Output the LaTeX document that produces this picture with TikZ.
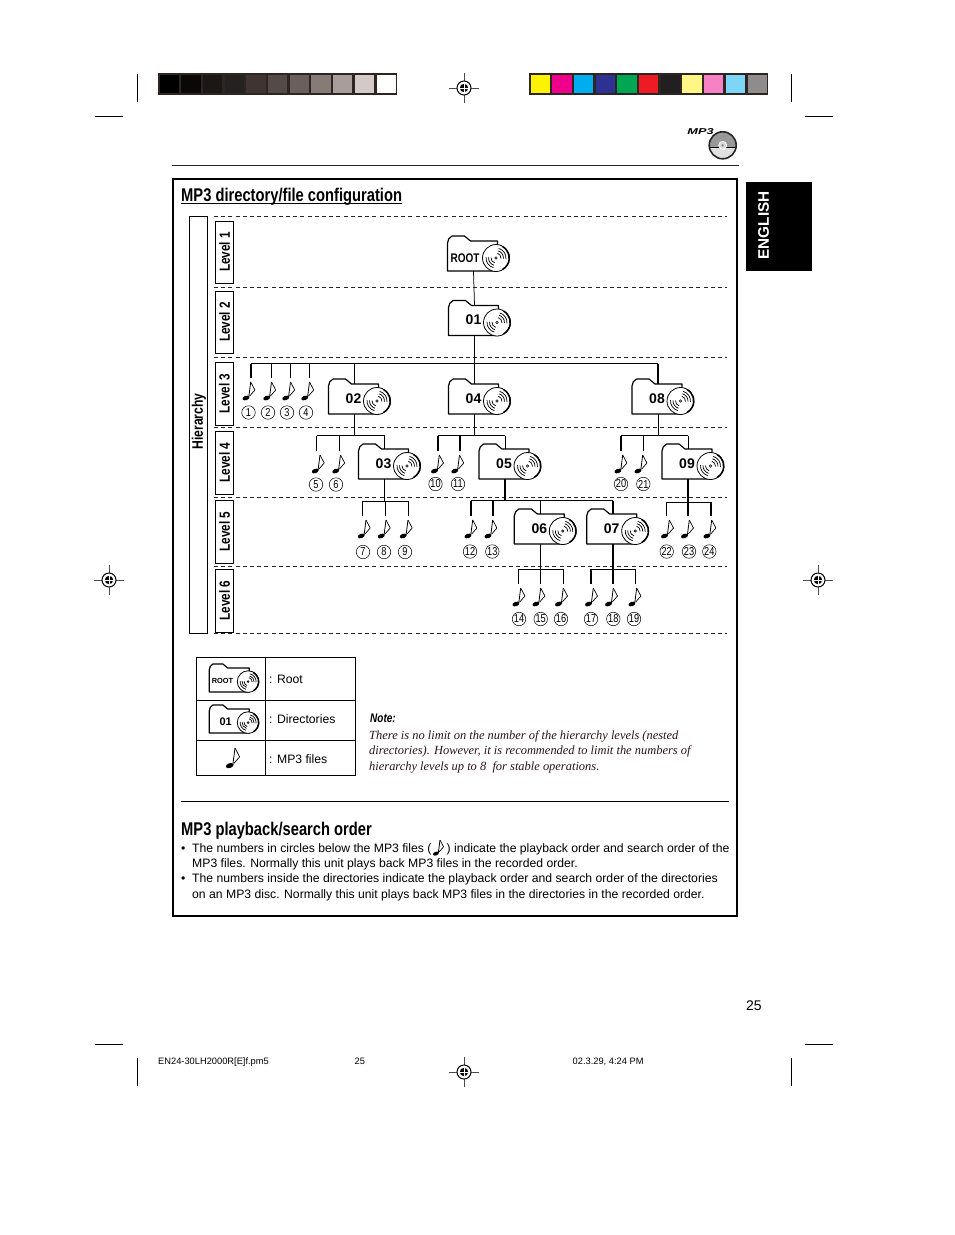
\documentclass[tikz,border=0pt]{standalone}
\usepackage{fontspec}
\setmainfont{Liberation Sans}
\newfontfamily\cond[FakeStretch=0.8]{Liberation Sans}
\newfontfamily\serifit{Liberation Serif}
\newcommand\fsz[1]{\fontsize{#1}{#1}\selectfont}
\definecolor{barframe}{HTML}{2E2522}
\definecolor{notetext}{HTML}{2A1518}
\tikzset{
  conn/.style={line width=0.75pt,black},
  connh/.style={line width=1.6pt,black},
  level/.style={dash pattern=on 4pt off 3.2pt,line width=0.8pt,black!85},
  box/.style={draw=black,line width=1pt},
  txt/.style={anchor=base west,inner sep=0pt,font=\fsz{12.2}},
  numlab/.style={circle,draw=black,line width=0.5pt,inner sep=0pt,minimum size=13.5pt,font=\cond\fsz{11.5}},
  lvltxt/.style={rotate=90,inner sep=0pt,font=\cond\bfseries\fsz{14.7}},
  flabel/.style={inner sep=0pt},
  fnode/.style={inner sep=0pt,minimum width=0pt,minimum height=30pt},
  mark line/.style={line width=0.8pt,black},
}
% name, left, top, label, label font, label x, label y, scale
\newcommand\folder[8]{%
  \begin{scope}[shift={(#2,#3)},scale=#8]
    \draw[fill=white,line width=1.2pt,line join=round] (0,35) -- (0,7) .. controls (0,4) and (2,1) .. (4.5,0) -- (17,0) -- (23,5) -- (50,5) -- (50,20) -- (50,35) -- cycle;
    \draw[fill=white,line width=0.8pt] (48.5,22) circle (13.5);
    \draw[line width=1.5pt] (48.5,22) ++(-60:13.2) arc[start angle=-60,end angle=60,radius=13.2];
    \draw[line width=0.6pt] (48.5,22) circle (1.2);
    \foreach \r in {5,7.5,10}{
      \draw[line width=0.7pt] (48.5,22) ++(105:\r) arc[start angle=105,end angle=185,radius=\r];
      \draw[line width=0.7pt] (48.5,22) ++(-75:\r) arc[start angle=-75,end angle=5,radius=\r];
    }
    \node[flabel,font=#5] (#1-l) at (#6,#7) {#4};
    \node[fnode,minimum height=30*#8] (#1) at (26,20) {};
  \end{scope}}
\newcommand\numfolder[4]{\folder{#1}{#2}{#3}{#4}{\bfseries\fsz{14}}{25}{19.5}{1}}
\newcommand\noteglyph[3]{%
  \begin{scope}[shift={(#1,#2)},scale=#3]
    \draw[line width=0.7pt,line join=round] (0,0) -- (4.2,8) -- (-1,14);
    \draw[line width=0.8pt] (0,0) -- (-2,15.5);
    \fill[shift={(-4.8,16)},rotate=20] (0,0) ellipse (3.6 and 2.2);
  \end{scope}}
% name, x of the drop line, x of the glyph, y of the glyph
\newcommand\noteat[4]{\coordinate (#1) at (#2,#4-4.5); \noteglyph{#3}{#4}{1}}
\newcommand\numc[4]{\node[numlab] (#1) at (#2,#3) {#4};}
\newcommand\target[3]{%
  \draw[line width=0.5pt,black!70] (#2-15,#3) -- (#2+15,#3) (#2,#3-15) -- (#2,#3+15);
  \node[circle,draw=black,line width=1pt,fill=white,minimum size=14pt,inner sep=0pt] (#1) at (#2,#3) {};
  \fill (#2,#3) circle (4.2);
  \draw[white,line width=0.4pt] (#2-4.2,#3) -- (#2+4.2,#3) (#2,#3-4.2) -- (#2,#3+4.2);}
\begin{document}
\begin{tikzpicture}[x=1pt,y=-1pt]
\useasboundingbox (0,0) rectangle (954,1235);
\fill[white] (0,0) rectangle (954,1235);
% crop marks
\draw[mark line] (137,74) -- (137,102) (95,116) -- (123,116) (791,74) -- (791,102) (805,116) -- (833,116)
  (95,1044) -- (123,1044) (137,1058) -- (137,1086) (805,1044) -- (833,1044) (791,1058) -- (791,1086);
\target{t1}{464}{88}
\target{t2}{109}{580}
\target{t3}{818}{580}
\target{t4}{464}{1072}
% colour bars
\fill[barframe] (158,73.3) rectangle (397,94.8);
\foreach \c [count=\i from 0] in {000000,0A0806,1A1715,252120,3F3432,544A48,6B5F5D,877B76,A89D9A,D2C9C8,FFFFFF}{
  \definecolor{cc}{HTML}{\c}
  \fill[cc] (159.5+\i*21.7,74.8) rectangle ++(19.3,18.5);
}
\fill[barframe] (529,73.3) rectangle (768,94.8);
\foreach \c [count=\i from 0] in {FFF200,EC008C,00AEEF,2E3192,00A651,ED1C24,231F20,FFF685,F682C5,7DD5F7,8E8C8C}{
  \definecolor{cc}{HTML}{\c}
  \fill[cc] (530.5+\i*21.7,74.8) rectangle ++(19.3,18.5);
}
% header
\draw[line width=0.9pt,black!85] (172,165.5) -- (739,165.5);
\node[inner sep=0pt,xscale=1.5,font=\bfseries\itshape\fsz{8.5}] (mp3) at (700.5,131.5) {MP3};
\fill[black!40] (722.7,145.3) circle (13.5);
\begin{scope}
  \clip (709,147.5) rectangle (737,160);
  \fill[black!12] (722.7,145.3) circle (13.5);
\end{scope}
\draw[line width=0.7pt] (709.2,147.5) -- (736.2,147.5);
\draw[line width=1.6pt,black!85] (722.7,145.3) circle (13.5);
\draw[fill=black!15,draw=white,line width=0.8pt] (722.7,145.3) circle (4);
\fill[black!50] (722.7,145.3) circle (1.2);
% English tab
\fill[black] (746,182) rectangle (812,271);
\node[rotate=90,white,inner sep=0pt,font=\bfseries\fsz{15.3}] (eng) at (763.5,225.3) {ENGLISH};
% main frame
\draw[line width=1.6pt] (173,179) rectangle (737,916);
\node[txt,font=\cond\bfseries\fsz{18.4}] (title) at (181,201) {MP3 directory/file configuration};
\draw[line width=1pt] (181,203.3) -- (402,203.3);
% level lines
\foreach \y in {216,287,357,427,497,566,633}{\draw[level] (214,\y) -- (727,\y);}
% hierarchy boxes
\node[box,minimum width=17.5pt,minimum height=417pt,inner sep=0pt] (hbox) at (198.7,424.5) {};
\node[lvltxt,font=\cond\bfseries\fsz{15.2}] (htxt) at (199,421.5) {Hierarchy};
\foreach \n/\a/\b in {1/221/283,2/291/353,3/362/425,4/431/494,5/500/563,6/569/632}{
  \draw[box] (215.5,\a) rectangle (233,\b);
  \node[lvltxt] (lv\n) at (224.5,\a*0.5+\b*0.5) {Level \n};
}
% folders
\folder{froot}{447.5}{236}{ROOT}{\cond\bfseries\fsz{12.5}}{17.5}{22}{1}
\numfolder{f01}{448.5}{300.5}{01}
\numfolder{f02}{328.5}{379}{02}
\numfolder{f04}{448.5}{379}{04}
\numfolder{f08}{632}{379}{08}
\numfolder{f03}{358.5}{444}{03}
\numfolder{f05}{479}{444}{05}
\numfolder{f09}{662}{444}{09}
\numfolder{f06}{514.3}{509}{06}
\numfolder{f07}{586.7}{509}{07}
% notes
\noteat{n1}{250.7}{250.7}{382}\noteat{n2}{271.5}{271.5}{382}\noteat{n3}{290.5}{290.5}{382}\noteat{n4}{309.5}{309.5}{382}
\noteat{n5}{316.7}{320}{455}\noteat{n6}{339}{340.5}{455}
\noteat{n7}{362.3}{366}{520}\noteat{n8}{385}{386}{520}\noteat{n9}{408}{408}{520}
\noteat{n10}{437.7}{439.3}{455}\noteat{n11}{460}{459.5}{455}
\noteat{n12}{471}{472.7}{520}\noteat{n13}{492.7}{492.7}{520}
\noteat{n14}{518.3}{520.7}{588}\noteat{n15}{540.3}{540.7}{588}\noteat{n16}{563.3}{563.3}{588}
\noteat{n17}{591}{593.3}{588}\noteat{n18}{612.7}{613.3}{588}\noteat{n19}{635}{636.7}{588}
\noteat{n20}{621}{622.7}{455}\noteat{n21}{643}{642.7}{455}
\noteat{n22}{666.7}{669.3}{520}\noteat{n23}{688}{689.3}{520}\noteat{n24}{711}{711.7}{520}
% circled numbers
\numc{c1}{248.5}{412.5}{1}\numc{c2}{268}{412.5}{2}\numc{c3}{287}{412.5}{3}\numc{c4}{306}{412.5}{4}
\numc{c5}{316}{484.5}{5}\numc{c6}{336}{484.5}{6}
\numc{c7}{363}{552}{7}\numc{c8}{384}{552}{8}\numc{c9}{405}{552}{9}
\numc{c10}{435.5}{484}{10}\numc{c11}{458}{484}{11}
\numc{c12}{470}{551.5}{12}\numc{c13}{492.3}{551.5}{13}
\numc{c14}{519}{619}{14}\numc{c15}{540.7}{619}{15}\numc{c16}{561}{619}{16}
\numc{c17}{591}{619}{17}\numc{c18}{613.3}{619}{18}\numc{c19}{634}{619}{19}
\numc{c20}{621}{484}{20}\numc{c21}{643.3}{484}{21}
\numc{c22}{666.7}{551.5}{22}\numc{c23}{689}{551.5}{23}\numc{c24}{709.3}{551.5}{24}
% buses
\coordinate (b3) at (474,363.5);
\coordinate (b4a) at (354.5,435.6);
\coordinate (b4b) at (474.5,435.6);
\coordinate (b4c) at (658,435.6);
\coordinate (b5a) at (384.5,501);
\coordinate (b5b) at (505,500.7);
\coordinate (b5c) at (688,502.3);
\coordinate (b6a) at (540.3,569.3);
\coordinate (b6b) at (612.7,569.3);
% connectors
\draw[conn] (froot.south) -- (f01.north);
\draw[conn] (f01.south) -- (f04.north);
\draw[line width=1.1pt] (n1 |- b3) -- (f08.north |- b3);
\draw[connh] (n1 |- b3) -- (n1);
\foreach \n in {n2,n3,n4}{\draw[conn] (\n |- b3) -- (\n);}
\draw[connh] (f02.north |- b3) -- (f02.north);
\draw[connh] (f08.north |- b3) -- (f08.north);
\draw[connh] (f02.south) -- (b4a);
\draw[connh] (f04.south) -- (b4b);
\draw[conn] (f08.south) -- (b4c);
\draw[line width=1pt] (n5 |- b4a) -- (f03.north |- b4a);
\draw[conn] (n5 |- b4a) -- (n5);
\draw[conn] (n6 |- b4a) -- (n6);
\draw[conn] (f03.north |- b4a) -- (f03.north);
\draw[line width=1.1pt] (n10 |- b4b) -- (f05.north |- b4b);
\draw[connh] (n10 |- b4b) -- (n10);
\draw[connh] (n11 |- b4b) -- (n11);
\draw[conn] (f05.north |- b4b) -- (f05.north);
\draw[line width=1.1pt] (n20 |- b4c) -- (f09.north |- b4c);
\draw[connh] (n20 |- b4c) -- (n20);
\draw[conn] (n21 |- b4c) -- (n21);
\draw[conn] (f09.north |- b4c) -- (f09.north);
\draw[connh] (f03.south) -- (b5a);
\draw[line width=1pt] (n7 |- b5a) -- (n9 |- b5a);
\foreach \n in {n7,n8,n9}{\draw[conn] (\n |- b5a) -- (\n);}
\draw[connh] (f05.south) -- (b5b);
\draw[line width=1.1pt] (n12 |- b5b) -- (f07.north |- b5b);
\draw[connh] (n12 |- b5b) -- (n12);
\draw[connh] (n13 |- b5b) -- (n13);
\draw[conn] (f06.north |- b5b) -- (f06.north);
\draw[connh] (f07.north |- b5b) -- (f07.north);
\draw[connh] (f09.south) -- (n23);
\draw[conn] (n22 |- b5c) -- (n24 |- b5c);
\draw[conn] (n22 |- b5c) -- (n22);
\draw[connh] (n24 |- b5c) -- (n24);
\draw[conn] (f06.south) -- (n15);
\draw[connh] (f07.south) -- (n18);
\draw[line width=1pt] (n14 |- b6a) -- (n16 |- b6a);
\draw[conn] (n14 |- b6a) -- (n14);
\draw[connh] (n16 |- b6a) -- (n16);
\draw[line width=1pt] (n17 |- b6b) -- (n19 |- b6b);
\draw[connh] (n17 |- b6b) -- (n17);
\draw[conn] (n19 |- b6b) -- (n19);
% legend
\draw[line width=0.9pt] (196.7,657.3) rectangle (355.7,775);
\draw[line width=0.9pt] (265.3,657.3) -- (265.3,775) (196.7,700) -- (355.7,700) (196.7,740) -- (355.7,740);
\folder{lroot}{209.3}{664}{ROOT}{\bfseries\fsz{7.4}}{16.5}{21}{0.8}
\folder{ldir}{209.3}{705}{01}{\bfseries\fsz{11}}{20.5}{20.5}{0.8}
\noteglyph{235}{748}{1.1}
\node[txt] (l1) at (269,683) {: Root};
\node[txt] (l2) at (269,723.2) {: Directories};
\node[txt] (l3) at (269,763.2) {: MP3 files};
% note
\node[txt,font=\cond\bfseries\itshape\fsz{12.5}] (notehead) at (370,722.7) {Note:};
\node[txt,text=notetext,font=\serifit\itshape\fsz{12.45}] (note1) at (369,739) {There is no limit on the number of the hierarchy levels (nested};
\node[txt,text=notetext,font=\serifit\itshape\fsz{12.45}] (note2) at (369,754.5) {directories). However, it is recommended to limit the numbers of};
\node[txt,text=notetext,font=\serifit\itshape\fsz{12.45}] (note3) at (369,770) {hierarchy levels up to 8 \ for stable operations.};
% lower part
\draw[line width=0.9pt] (181,801.5) -- (729,801.5);
\node[txt,font=\cond\bfseries\fsz{18.4}] (order) at (181,835) {MP3 playback/search order};
\node[txt] (b1) at (181,852.3) {•};
\node[txt] (p1a) at (192,852.3) {The numbers in circles below the MP3 files (};
\noteglyph{440}{840}{0.85}
\node[txt] (p1b) at (446.5,852.3) {) indicate the playback order and search order of the};
\node[txt] (p2) at (192,867.3) {MP3 files. Normally this unit plays back MP3 files in the recorded order.};
\node[txt] (b2) at (181,882.8) {•};
\node[txt] (p3) at (192,882.8) {The numbers inside the directories indicate the playback order and search order of the directories};
\node[txt] (p4) at (192,898.3) {on an MP3 disc. Normally this unit plays back MP3 files in the directories in the recorded order.};
% page number and footer
\node[txt,font=\fsz{14}] (pg) at (746,1010) {25};
\node[txt,font=\fsz{9.3}] (f1) at (158,1064.5) {EN24-30LH2000R[E]f.pm5};
\node[txt,font=\fsz{9.3}] (f2) at (354.5,1064.5) {25};
\node[txt,font=\fsz{9.3}] (f3) at (572.5,1064.5) {02.3.29, 4:24 PM};
\end{tikzpicture}
\end{document}
